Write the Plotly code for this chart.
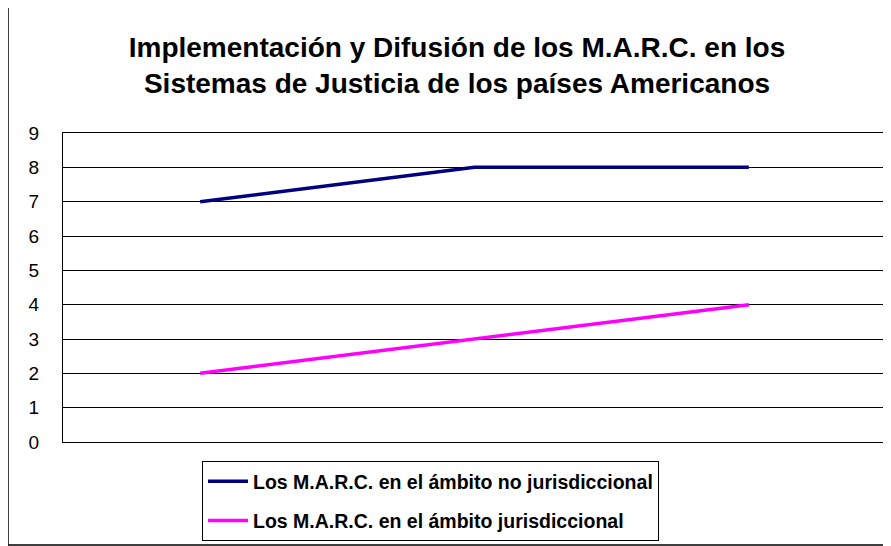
import plotly.graph_objects as go

# Data (category labels are not shown there)
categories = ["1", "2", "3"]
no_jurisdiccional = [7, 8, 8]
jurisdiccional = [2, 3, 4]
y_ticks = list(range(0, 10))

# the page body adds an 8px margin, so the figure is drawn 8px smaller
OFF = 8
W, H = 891 - OFF, 546 - OFF
L, R, T, B = 63 - OFF, W - (886 - OFF), 133 - OFF, H - (442 - OFF)
pw, ph = W - L - R, H - T - B


def px_x(x):
    # page pixel -> paper coordinate
    return (x - OFF - L) / pw


def px_y(y):
    return (H - B - (y - OFF)) / ph


fig = go.Figure()
fig.add_trace(go.Scatter(
    x=categories, y=no_jurisdiccional, mode="lines",
    name="Los M.A.R.C. en el ámbito no jurisdiccional",
    line=dict(color="#000080", width=3.5), legendgroup="a",
))
fig.add_trace(go.Scatter(
    x=categories, y=jurisdiccional, mode="lines",
    name="Los M.A.R.C. en el ámbito jurisdiccional",
    line=dict(color="#FF00FF", width=3.5), legendgroup="b",
))

font_family = "Liberation Sans, Arial, sans-serif"

fig.update_layout(
    width=W, height=H,
    margin=dict(l=L, r=R, t=T, b=B),
    plot_bgcolor="white", paper_bgcolor="white",
    font=dict(family=font_family, color="black", size=17),
    title=dict(
        text="Implementación y Difusión de los M.A.R.C. en los<br>Sistemas de Justicia de los países Americanos",
        x=(457 - OFF) / W, xanchor="center", y=1 - 48.5 / H, yanchor="middle",
        font=dict(family=font_family, size=28, color="black", weight="bold"),
    ),
    showlegend=True,
    legend=dict(
        x=px_x(202), xanchor="left", y=px_y(461), yanchor="top",
        bordercolor="black", borderwidth=1, bgcolor="white",
        font=dict(size=19.5, weight="bold"),
        tracegroupgap=11, itemwidth=40,
    ),
    xaxis=dict(
        showticklabels=False, showgrid=False, zeroline=False,
        showline=True, linecolor="black", linewidth=1, mirror=True,
        range=[-0.5, 2.5], fixedrange=True,
    ),
    yaxis=dict(
        range=[0, 9], tickvals=y_ticks, showgrid=True, gridcolor="black",
        gridwidth=1, zeroline=False, showline=True, linecolor="black",
        linewidth=1, mirror=True, ticklabelstandoff=19,
        tickfont=dict(size=19),
    ),
)

# outer chart border (right edge runs past the picture)
fig.add_shape(
    type="rect", xref="paper", yref="paper",
    x0=px_x(8), x1=px_x(895), y0=px_y(545), y1=px_y(4),
    line=dict(color="black", width=1.5),
)

fig.write_html("out.html")
